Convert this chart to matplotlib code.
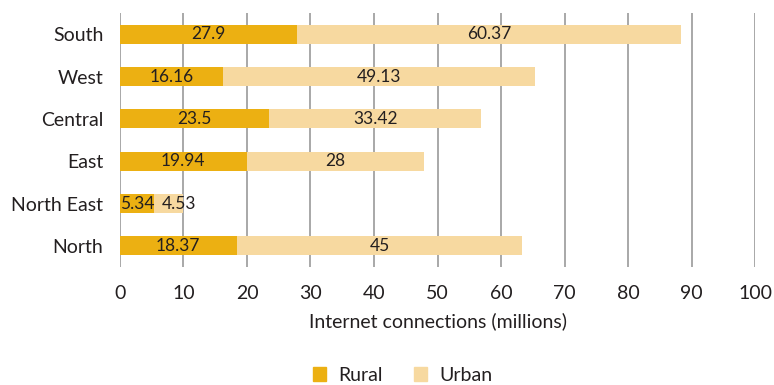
import matplotlib.pyplot as plt
from matplotlib.patches import Patch

regions = ["South", "West", "Central", "East", "North East", "North"]
rural = [27.9, 16.16, 23.5, 19.94, 5.34, 18.37]
urban = [60.37, 49.13, 33.42, 28, 4.53, 45]
xticks = [0, 10, 20, 30, 40, 50, 60, 70, 80, 90, 100]

c_rural = "#ECB012"
c_urban = "#F7D9A0"
txt = "#231F20"

plt.rcParams["font.family"] = ["Lato", "DejaVu Sans"]

fig = plt.figure(figsize=(7.74, 3.85), dpi=100)
ax = fig.add_axes([0.155, 0.3065, 0.8205, 0.6595])

y = list(range(len(regions)))
ax.barh(y, rural, height=0.45, color=c_rural, zorder=2)
ax.barh(y, urban, left=rural, height=0.45, color=c_urban, zorder=2)

for i in y:
    ax.text(rural[i] / 2, i, f"{rural[i]:g}", ha="center", va="center",
            fontsize=12.5, color=txt, zorder=3)
    if urban[i] < 6:
        # short segment: start the label just past the rural value
        ax.text(rural[i] + 1.2, i, f"{urban[i]:g}", ha="left", va="center",
                fontsize=12.5, color=txt, zorder=3)
    else:
        ax.text(rural[i] + urban[i] / 2, i, f"{urban[i]:g}", ha="center",
                va="center", fontsize=12.5, color=txt, zorder=3)

ax.set_xlim(0, 100)
ax.set_ylim(len(regions) - 0.5, -0.5)
ax.set_xticks(xticks)
ax.set_yticks(y)
ax.set_yticklabels(regions)
ax.grid(axis="x", color="#A8A8A8", linewidth=1.4, zorder=0)
ax.set_axisbelow(True)
for s in ax.spines.values():
    s.set_visible(False)
ax.tick_params(axis="both", length=0, labelsize=14, colors=txt)
ax.tick_params(axis="x", pad=13)
ax.tick_params(axis="y", pad=12)
ax.set_xlabel("Internet connections (millions)", fontsize=14, color=txt, labelpad=7)

handles = [Patch(color=c_rural, label="Rural"), Patch(color=c_urban, label="Urban")]
fig.legend(handles=handles, loc="center", bbox_to_anchor=(0.52, 0.025), ncol=2,
           frameon=False, fontsize=14, handlelength=0.7, handleheight=0.7,
           columnspacing=1.6, handletextpad=0.6, labelcolor=txt)

fig.savefig("out.png", dpi=100)
